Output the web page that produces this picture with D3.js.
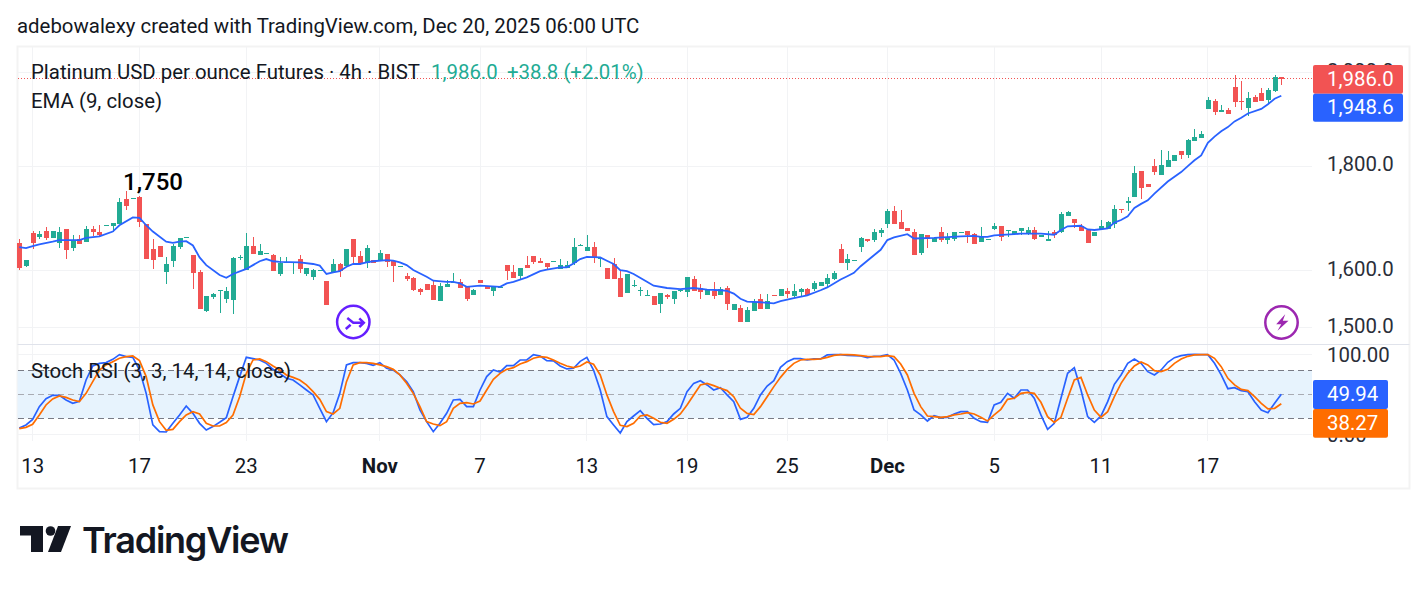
<!DOCTYPE html>
<html>
<head>
<meta charset="utf-8">
<script src="https://cdn.jsdelivr.net/npm/d3@7"></script>
<style>
  html, body { margin: 0; padding: 0; background: #fff; }
  svg { display: block; font-family: Roboto, sans-serif; }
</style>
</head>
<body>
<svg class="chart"></svg>
<script>
// candles, oldest first (4h bars)
const opens = [
  1650,1608,1669,1662,1673,1660,1650,1677,1641,1658,
  1652,1677,1671,1682,1682,1686,1734,1734,1738,1686,
  1639,1645,1597,1617,1643,1660,1628,1597,1529,1553,
  1564,1550,1548,1623,1601,1645,1628,1630,1628,1594,
  1614,1614,1621,1594,1589,1599,1581,1597,1612,1608,
  1658,1626,1614,1619,1619,1630,1617,1606,1590,1587,
  1567,1576,1574,1546,1571,1579,1580,1573,1557,1583,
  1573,1564,1569,1610,1597,1590,1610,1626,1617,1614,
  1615,1603,1605,1614,1645,1635,1643,1622,1605,1612,
  1587,1560,1573,1564,1555,1555,1541,1557,1550,1564,
  1562,1585,1569,1557,1564,1557,1569,1531,1534,1510,
  1529,1550,1533,1557,1555,1564,1555,1562,1567,1567,
  1573,1576,1585,1639,1614,1617,1643,1658,1656,1669,
  1686,1712,1690,1679,1671,1632,1665,1652,1671,1656,
  1658,1669,1673,1667,1652,1656,1677,1682,1673,1667,
  1673,1669,1675,1662,1654,1671,1671,1701,1695,1682,
  1675,1663,1677,1677,1686,1715,1727,1738,1790,1764,
  1800,1782,1798,1810,1831,1822,1851,1859,1920,1937,
  1913,1918,1968,1937,1922,1946,1955,1939,1959,1990
];
const highs = [
  1658,1619,1673,1673,1681,1673,1681,1677,1665,1665,
  1682,1682,1684,1684,1688,1736,1750,1736,1740,1686,
  1658,1645,1624,1648,1660,1662,1628,1601,1555,1560,
  1565,1571,1624,1628,1669,1662,1648,1632,1630,1624,
  1624,1615,1628,1605,1603,1601,1581,1621,1614,1639,
  1658,1635,1646,1619,1637,1630,1617,1608,1596,1589,
  1569,1576,1581,1578,1583,1596,1585,1573,1567,1583,
  1573,1571,1571,1610,1610,1605,1626,1626,1623,1614,
  1617,1621,1617,1660,1648,1665,1652,1624,1605,1623,
  1599,1594,1583,1571,1565,1555,1560,1559,1564,1567,
  1589,1590,1576,1565,1580,1571,1573,1541,1539,1536,
  1550,1559,1559,1557,1567,1569,1576,1569,1569,1581,
  1580,1594,1599,1648,1630,1619,1662,1658,1677,1679,
  1716,1720,1713,1679,1677,1667,1665,1660,1681,1669,
  1671,1671,1673,1669,1681,1658,1688,1682,1675,1673,
  1679,1681,1681,1665,1673,1675,1709,1711,1695,1686,
  1675,1671,1694,1692,1723,1715,1738,1800,1790,1764,
  1814,1833,1831,1822,1831,1855,1876,1872,1946,1942,
  1928,1922,1994,1982,1957,1950,1966,1966,1994,1990
];
const lows = [
  1601,1606,1639,1658,1656,1660,1641,1621,1635,1648,
  1652,1663,1663,1682,1671,1686,1713,1734,1681,1621,
  1603,1624,1576,1606,1639,1660,1567,1533,1527,1550,
  1526,1543,1524,1619,1601,1630,1628,1630,1599,1590,
  1614,1594,1596,1590,1583,1599,1539,1597,1589,1608,
  1610,1610,1605,1614,1619,1606,1580,1606,1581,1564,
  1557,1565,1548,1546,1571,1579,1569,1546,1557,1578,
  1567,1555,1569,1583,1587,1585,1605,1612,1614,1601,
  1615,1603,1605,1610,1645,1635,1614,1606,1585,1585,
  1553,1560,1571,1555,1555,1539,1526,1550,1541,1562,
  1553,1564,1550,1557,1550,1557,1531,1531,1510,1510,
  1529,1533,1533,1555,1555,1552,1552,1553,1555,1564,
  1573,1571,1583,1614,1601,1617,1634,1652,1652,1662,
  1679,1686,1677,1673,1628,1628,1641,1652,1652,1648,
  1654,1669,1650,1648,1652,1656,1675,1654,1662,1667,
  1665,1665,1656,1662,1654,1660,1669,1701,1679,1673,
  1650,1663,1677,1677,1679,1708,1711,1738,1734,1758,
  1782,1782,1798,1810,1814,1816,1851,1859,1920,1907,
  1913,1909,1924,1918,1905,1935,1937,1931,1957,1972
];
const closes = [
  1605,1619,1650,1667,1660,1673,1671,1637,1656,1648,
  1677,1671,1665,1684,1688,1728,1721,1736,1690,1621,
  1619,1624,1612,1645,1660,1662,1596,1533,1555,1559,
  1565,1564,1623,1624,1645,1630,1635,1632,1599,1614,
  1615,1615,1603,1605,1601,1601,1539,1612,1599,1639,
  1624,1614,1641,1614,1632,1615,1608,1608,1585,1565,
  1562,1565,1548,1573,1576,1580,1569,1550,1565,1578,
  1567,1571,1571,1599,1587,1605,1605,1615,1614,1606,
  1617,1610,1610,1643,1646,1643,1623,1623,1585,1585,
  1553,1594,1574,1565,1557,1539,1560,1553,1564,1565,
  1589,1564,1562,1565,1555,1567,1541,1541,1510,1531,
  1545,1533,1546,1555,1567,1559,1564,1567,1557,1578,
  1580,1587,1596,1614,1621,1619,1660,1654,1671,1675,
  1712,1686,1677,1673,1628,1667,1658,1660,1656,1662,
  1671,1671,1665,1648,1662,1658,1682,1662,1675,1673,
  1679,1675,1658,1665,1658,1665,1705,1709,1688,1673,
  1650,1671,1682,1690,1715,1713,1731,1786,1756,1758,
  1788,1802,1812,1822,1822,1853,1861,1866,1939,1913,
  1918,1909,1935,1935,1944,1935,1937,1961,1990,1986
];

// EMA, read at the bars where the line bends
const emaBars = [
  0,1,2,3,5,6,9,10,12,14,15,17,18,19,20,22,23,24,25,26,27,28,30,31,32,34,35,36,37,38,39,42,44,45,46,47,48,49,50,51,
  52,53,55,56,57,58,59,61,62,64,65,66,67,69,72,73,74,76,78,79,81,82,83,84,85,87,88,89,90,91,92,94,95,97,99,101,103,105,106,107,
  108,109,111,113,114,116,118,120,121,122,123,124,125,126,128,129,130,131,133,134,137,141,143,144,145,146,150,153,155,156,157,159,160,161,163,164,
  165,166,167,168,169,170,172,174,175,176,177,178,179,180,181,182,183,184,186,187,188,189
];
const emaValues = [
  1643,1641,1645,1648,1653,1656,1656,1660,1663,1672,1684,1699,1698,1684,1672,1653,1651,1653,1654,1646,1624,1610,1592,1587,1594,1603,1610,1617,1621,1617,1616,1615,1612,1609,1594,1597,1599,1607,1612,1612,
  1615,1617,1619,1618,1615,1610,1601,1589,1582,1580,1580,1577,1571,1573,1571,1577,1580,1588,1599,1602,1606,1606,1613,1621,1625,1624,1618,1612,1601,1599,1594,1580,1573,1569,1567,1569,1566,1565,1564,1559,
  1550,1545,1544,1542,1546,1551,1556,1565,1570,1577,1584,1590,1596,1608,1628,1638,1656,1661,1667,1659,1660,1663,1664,1662,1662,1665,1668,1668,1666,1675,1682,1683,1676,1675,1678,1689,
  1694,1701,1717,1725,1732,1745,1769,1788,1800,1812,1822,1848,1861,1872,1881,1893,1901,1910,1920,1930,1942,1948.6
];

const stochK = [
  7.9,11.7,18.7,34.6,44.6,48.7,48.7,42.9,38.7,41.2,
  67.9,85.4,88.7,89.6,93.7,99.6,97.1,96.2,80.4,51.2,
  11.7,3.3,2.9,13.7,24.2,35.4,26.2,13.7,5.4,9.6,
  15,20.8,47,72.1,96.2,94.6,92.9,88.7,81.2,76.2,
  70,67.9,61.7,55.4,49.2,32.5,15.8,27,51.2,86.7,
  89.6,89.6,88.7,86.2,89.6,82.5,80.4,74.2,65.8,53.3,
  30.4,15.8,3.3,13.7,26.2,42.9,43.7,34.6,34.6,55.4,
  72.1,80.4,77.9,85.8,85.8,92.9,92.9,99.6,97.9,92.1,
  91.7,85.4,81.7,82.5,91.2,96.2,80.4,55.4,22.1,11.7,
  1.6,15.8,22.9,29.6,20,12.1,12.9,15.8,25.4,32.5,
  53.3,63.7,67,61.7,55.4,58.3,49.2,40.8,18.7,21.2,
  32.5,49.2,60.4,67,83.7,90.8,94.6,94.6,92.9,94.2,
  94.2,99.2,99.6,99.6,98.7,98.3,97.9,95.8,97.5,97.9,
  99.6,92.9,76.2,55.4,30.4,24.2,16.6,23.3,20.8,21.2,
  25.4,28.3,28.3,20,15.8,15,36.7,40,51.2,45,
  55.4,55.4,45,24.2,6.2,13.7,45,76.2,83.3,55.4,
  22.1,15,22.9,40.8,62.5,74.2,88.7,94.2,88.7,78.3,
  74.2,80.4,90,95.8,98.3,99.6,100,99.6,99.6,88.7,
  74.2,57,58.3,54.6,53.3,40.8,30.4,27,38.7,49.94
];
const stochD = [
  7,8.7,12.5,24.2,36.7,44.2,47.9,46.2,42.9,40.8,
  51.2,65.8,80.4,86.7,90.8,95,97.1,97.9,92.1,72.1,
  36.7,15.8,5,6.2,15.8,24.2,28.3,25.4,13.7,10.4,
  10.4,14.6,24.2,47,76.2,92.9,94.2,90.8,85.4,80.4,
  74.2,71.2,67.9,61.7,53.3,43.7,28.3,25.4,32.5,65.8,
  86.7,89.6,89.6,88.7,86.7,84.6,81.2,74.2,63.7,51.2,
  34.6,15.8,12.9,10.8,15.8,32.5,38.7,39.6,37.9,41.6,
  55.4,68.7,76.2,81.2,83.3,87.9,90.8,95,97.1,96.2,
  92.9,88.7,85.4,83.3,85.4,90.4,87.5,74.2,49.2,28.3,
  11.2,9.6,13.7,22.9,24.2,20,15,13.7,18.7,25.4,
  36.7,49.2,61.7,63.7,60.8,57.5,54.6,47,32.5,26.2,
  24.6,34.6,47,59.6,71.2,81.2,88.7,92.9,93.7,93.7,
  94.2,96.2,98.7,99.6,99.6,99.2,98.3,97.5,97.1,97.1,
  98.3,97.1,87.9,74.2,51.2,34.6,22.9,22.1,21.2,22.1,
  24.2,25.4,27,25.4,21.2,16.6,24.2,31.2,43.7,45,
  51.2,52.5,51.2,40,22.1,15,21.2,45,67.9,71.2,
  49.2,30.4,21.2,28.3,47,63.7,76.2,85.4,90.4,86.7,
  79.6,78.3,81.2,88.7,94.2,97.5,99.2,99.6,99.6,95,
  84.6,70,61.7,56.2,54.6,47,38.7,31.7,32.5,38.27
];

const priceTicks = [1500, 1600, 1800, 2000];
const stochTicks = [0, 100];
const stochLevels = [20, 50, 80];
const timeBars = [2, 18, 34, 54, 69, 85, 100, 115, 130, 146, 162, 178];
const timeLabels = ['13', '17', '23', 'Nov', '7', '13', '19', '25', 'Dec', '5', '11', '17'];
const lastClose = 1986.0;
const lastEma = 1948.6;

const UP = '#22ab94', DOWN = '#f25353', BLUE = '#2962ff', ORANGE = '#ff6d00';
const INK = '#131722', GRID = '#f2f3f5';
const FONT = 20.4;

const plotLeft = 17.5, plotRight = 1312, frameRight = 1409.5, frameTop = 46.5, frameBottom = 488.5;
const sepY = 344.5, gridBottom = 441;

const svg = d3.select('svg.chart').attr('width', 1427).attr('height', 591);

const x = d3.scaleLinear().domain([0, closes.length - 1]).range([19.3, 1281.3]);
const y = d3.scaleLog().domain([1473, 2061]).range([344, 46]);
const yStoch = d3.scaleLinear().domain([0, 100]).range([434.3, 354.3]);

svg.append('rect')
  .attr('x', plotLeft).attr('y', frameTop)
  .attr('width', frameRight - plotLeft).attr('height', frameBottom - frameTop)
  .attr('fill', '#fff').attr('stroke', '#f3f3f3').attr('stroke-width', 2);

// grid + axes
const timeAxis = svg.append('g')
  .attr('transform', `translate(0, ${gridBottom})`)
  .call(d3.axisBottom(x).tickValues(timeBars).tickSize(0).tickPadding(0).offset(0)
    .tickFormat((d, i) => timeLabels[i]));
timeAxis.select('.domain').remove();
timeAxis.selectAll('.tick line')
  .attr('y1', frameTop - gridBottom).attr('y2', 0).attr('stroke', GRID)
  .attr('shape-rendering', 'crispEdges');
timeAxis.selectAll('.tick text')
  .attr('y', 32).attr('dy', 0)
  .attr('fill', INK)
  .style('font-family', 'Roboto, sans-serif')
  .style('font-size', FONT + 'px')
  .style('font-weight', d => isNaN(timeLabels[timeBars.indexOf(d)]) ? 700 : 400);

const priceAxis = svg.append('g')
  .attr('transform', `translate(${plotRight}, 0)`)
  .call(d3.axisRight(y).tickValues(priceTicks).tickSize(0).tickPadding(15).offset(0)
    .tickFormat(d3.format(',.1f')));
priceAxis.select('.domain').remove();
priceAxis.selectAll('.tick line')
  .attr('x1', plotLeft - plotRight).attr('x2', 0).attr('stroke', GRID)
  .attr('shape-rendering', 'crispEdges');
priceAxis.selectAll('.tick text')
  .attr('dy', 5).attr('fill', '#2a2e39')
  .style('font-family', 'Roboto, sans-serif').style('font-size', FONT + 'px');

const stochAxis = svg.append('g')
  .attr('transform', `translate(${plotRight}, 0)`)
  .call(d3.axisRight(yStoch).tickValues(stochTicks).tickSize(0).tickPadding(15).offset(0)
    .tickFormat(d3.format('.2f')));
stochAxis.select('.domain').remove();
stochAxis.selectAll('.tick line')
  .attr('x1', plotLeft - plotRight).attr('x2', 0).attr('stroke', GRID)
  .attr('shape-rendering', 'crispEdges');
stochAxis.selectAll('.tick text')
  .attr('dy', 7.5).attr('fill', '#2a2e39')
  .style('font-family', 'Roboto, sans-serif').style('font-size', FONT + 'px');

svg.append('line')
  .attr('x1', plotLeft).attr('x2', frameRight).attr('y1', sepY).attr('y2', sepY)
  .attr('stroke', '#e0e3eb');

// stoch band
svg.append('rect')
  .attr('x', plotLeft).attr('width', plotRight - plotLeft)
  .attr('y', yStoch(80)).attr('height', yStoch(20) - yStoch(80))
  .attr('fill', '#e7f3fd');
svg.selectAll('line.level')
  .data(stochLevels)
  .enter()
  .append('line')
  .attr('class', 'level')
  .attr('x1', plotLeft).attr('x2', plotRight)
  .attr('y1', d => yStoch(d)).attr('y2', d => yStoch(d))
  .attr('stroke', d => d === 50 ? '#a9abb3' : '#787b86')
  .attr('stroke-dasharray', '6 4')
  .attr('shape-rendering', 'crispEdges');

// last price line
svg.append('line')
  .attr('x1', plotLeft).attr('x2', plotRight)
  .attr('y1', y(lastClose)).attr('y2', y(lastClose))
  .attr('stroke', DOWN).attr('stroke-dasharray', '1 2')
  .attr('shape-rendering', 'crispEdges');

// candles
const candles = svg.selectAll('g.candle')
  .data(closes.map((c, i) => ({i: i, o: opens[i], h: highs[i], l: lows[i], c: c})))
  .enter()
  .append('g')
  .attr('class', 'candle')
  .attr('shape-rendering', 'crispEdges')
  .attr('fill', d => d.c >= d.o ? UP : DOWN);

candles.append('rect')
  .attr('x', d => Math.round(x(d.i)) - 0.5)
  .attr('width', 1.4)
  .attr('y', d => y(d.h))
  .attr('height', d => y(d.l) - y(d.h));

candles.append('rect')
  .attr('x', d => Math.round(x(d.i)) - 2.3)
  .attr('width', 5)
  .attr('y', d => y(Math.max(d.o, d.c)))
  .attr('height', d => Math.max(1, Math.abs(y(d.o) - y(d.c))));

const lineFor = scale => d3.line().x(d => x(d[0])).y(d => scale(d[1]));

svg.append('path')
  .attr('d', lineFor(y)(emaBars.map((b, i) => [b, emaValues[i]])))
  .attr('fill', 'none').attr('stroke', BLUE).attr('stroke-width', 1.8);

svg.append('path')
  .attr('d', lineFor(yStoch)(stochK.map((v, i) => [i, v])))
  .attr('fill', 'none').attr('stroke', BLUE).attr('stroke-width', 1.7);

svg.append('path')
  .attr('d', lineFor(yStoch)(stochD.map((v, i) => [i, v])))
  .attr('fill', 'none').attr('stroke', ORANGE).attr('stroke-width', 1.7);

// price tags
function tag(x0, w, y0, h, color, str) {
  svg.append('rect')
    .attr('x', x0).attr('y', y0).attr('width', w).attr('height', h)
    .attr('rx', 2).attr('fill', color);
  svg.append('text')
    .attr('x', x0 + 14).attr('y', y0 + h / 2 + 6.5)
    .attr('fill', '#fff').attr('font-size', FONT)
    .text(str);
}
tag(1313, 90, 65, 28.7, DOWN, d3.format(',.1f')(lastClose));
tag(1313, 90, 93.7, 28, BLUE, d3.format(',.1f')(lastEma));
tag(1313, 75, 380, 29, BLUE, d3.format('.2f')(stochK[stochK.length - 1]));
tag(1313, 75, 409, 28.7, ORANGE, d3.format('.2f')(stochD[stochD.length - 1]));

// texts
function label(tx, ty, str, size, fill, weight) {
  return svg.append('text')
    .attr('x', tx).attr('y', ty)
    .attr('font-size', size).attr('fill', fill)
    .attr('font-weight', weight || 400)
    .text(str);
}
label(17, 33, 'adebowalexy created with TradingView.com, Dec 20, 2025 06:00 UTC', FONT, INK);
label(31, 79, 'Platinum USD per ounce Futures · 4h · BIST', FONT, INK);
label(431, 79, '1,986.0', FONT, UP);
label(507, 79, '+38.8 (+2.01%)', FONT, UP);
label(31, 108, 'EMA (9, close)', FONT, INK);
label(31, 378, 'Stoch RSI (3, 3, 14, 14, close)', FONT, INK);
label(123, 190, '1,750', 24, '#000', 500);

// event icons
const icon1 = svg.append('g').attr('transform', 'translate(353.3, 322)')
  .attr('fill', 'none').attr('stroke', '#651fff').attr('stroke-width', 2.5);
icon1.append('circle').attr('r', 16.2).attr('fill', '#fff');
icon1.append('path').attr('d', 'M-6,-4L0,0.7H10M6,-3.6L10.5,0.7L6,5M-7.5,7L-2.7,2.7');

const icon2 = svg.append('g').attr('transform', 'translate(1281.5, 322.5)');
icon2.append('circle').attr('r', 16.2).attr('fill', '#fff')
  .attr('stroke', '#9c27b0').attr('stroke-width', 2.5);
icon2.append('path').attr('fill', '#9c27b0')
  .attr('d', 'M3.7,-8.3L-5.3,1.7H-0.3L-4,8.3L7,-1.7H1.3Z');

// logo
const logo = svg.append('g').attr('fill', '#131722');
logo.append('path').attr('d', 'M20,526H43V552H31V535.5H20Z');
logo.append('circle').attr('cx', 50.5).attr('cy', 531).attr('r', 4.8);
logo.append('path').attr('d', 'M58,526H71L61,552H48Z');
label(82, 553, 'TradingView', 36, '#131722', 600)
  .attr('font-family', 'Inter, Roboto, sans-serif')
  .attr('textLength', 207);
</script>
</body>
</html>
